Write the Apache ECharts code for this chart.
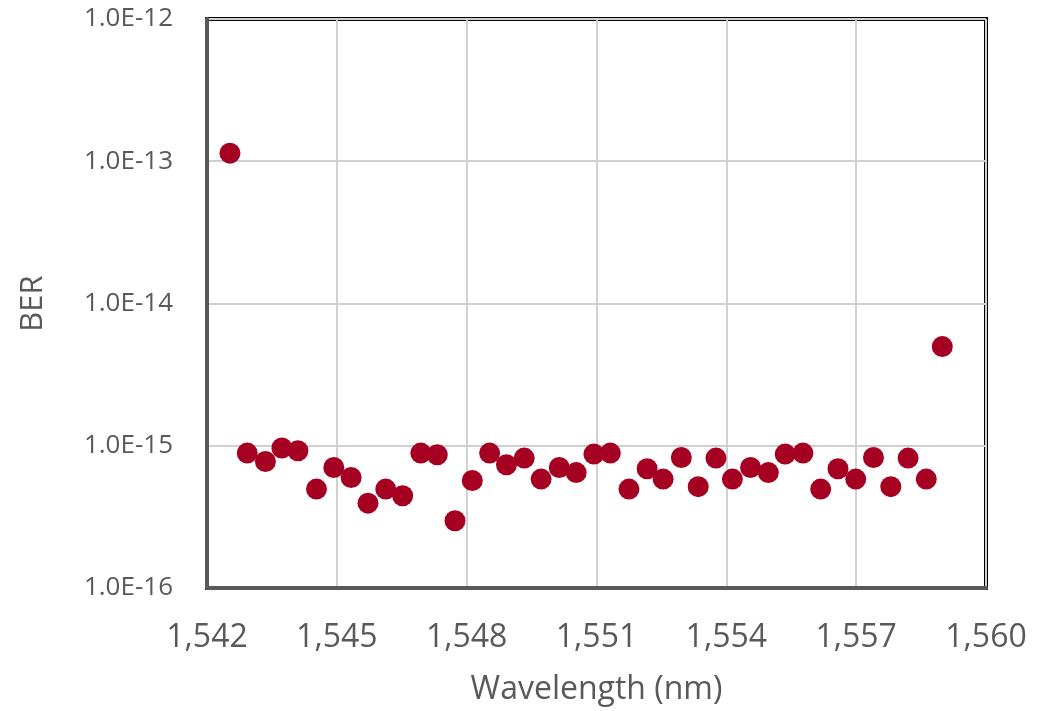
<!DOCTYPE html>
<html>
<head>
<meta charset="utf-8">
<script src="https://cdn.jsdelivr.net/npm/echarts@6/dist/echarts.min.js"></script>
<style>html,body{margin:0;padding:0;background:#fff}#c{width:1053px;height:711px}</style>
</head>
<body>
<div id="c"></div>
<script>
const wavelength = [1542.53,1542.93,1543.35,1543.73,1544.10,1544.53,1544.93,1545.33,1545.72,1546.13,1546.52,1546.94,1547.32,1547.73,1548.13,1548.53,1548.92,1549.33,1549.72,1550.14,1550.53,1550.94,1551.32,1551.75,1552.17,1552.54,1552.96,1553.35,1553.76,1554.14,1554.56,1554.97,1555.36,1555.77,1556.18,1556.58,1556.99,1557.40,1557.80,1558.20,1558.62,1558.99];
const ber = [1.14e-13,8.88e-16,7.75e-16,9.64e-16,9.22e-16,4.96e-16,7.03e-16,5.98e-16,3.95e-16,4.96e-16,4.45e-16,8.88e-16,8.64e-16,2.97e-16,5.70e-16,8.88e-16,7.35e-16,8.19e-16,5.83e-16,7.03e-16,6.48e-16,8.74e-16,8.88e-16,4.96e-16,6.89e-16,5.83e-16,8.27e-16,5.16e-16,8.19e-16,5.83e-16,7.03e-16,6.48e-16,8.74e-16,8.88e-16,4.96e-16,6.89e-16,5.83e-16,8.27e-16,5.16e-16,8.19e-16,5.83e-16,4.98e-15];
const xTicks = [1542,1545,1548,1551,1554,1557,1560];
const yTicks = [1e-16,1e-15,1e-14,1e-13,1e-12];

const chart = echarts.init(document.getElementById('c'));
const font = "'Open Sans', 'Liberation Sans', sans-serif";
chart.setOption({
  animation: false,
  backgroundColor: '#fff',
  grid: {left: 207, top: 19, right: 67, bottom: 123, show: true, borderColor: '#000', borderWidth: 4, backgroundColor: 'transparent'},
  xAxis: {
    type: 'value', min: xTicks[0], max: xTicks[xTicks.length-1], interval: 3,
    name: 'Wavelength (nm)', nameLocation: 'middle', nameGap: 86,
    nameTextStyle: {color: '#595959', fontSize: 32, fontFamily: font},
    axisLine: {show: true, onZero: false, lineStyle: {color: '#595959', width: 4}},
    axisTick: {show: false},
    splitLine: {show: true, lineStyle: {color: '#d0d0d0', width: 2}},
    axisLabel: {color: '#595959', fontSize: 32, fontFamily: font, margin: 34,
      formatter: v => v.toLocaleString('en-US')}
  },
  yAxis: {
    type: 'log', logBase: 10, min: yTicks[0], max: yTicks[yTicks.length-1],
    name: 'BER', nameLocation: 'middle', nameGap: 158, nameRotate: 90,
    nameTextStyle: {color: '#595959', fontSize: 31, fontFamily: font},
    axisLine: {show: true, lineStyle: {color: '#595959', width: 4}},
    axisTick: {show: false},
    splitLine: {show: true, lineStyle: {color: '#d0d0d0', width: 2}},
    axisLabel: {color: '#595959', fontSize: 26, fontFamily: font, margin: 34,
      formatter: v => v.toExponential(1).toUpperCase()}
  },
  series: [{
    type: 'scatter',
    data: wavelength.map((w, i) => [w, ber[i]]),
    symbol: 'circle', symbolSize: 21,
    itemStyle: {color: '#A50021', opacity: 1}
  }]
});
</script>
</body>
</html>
